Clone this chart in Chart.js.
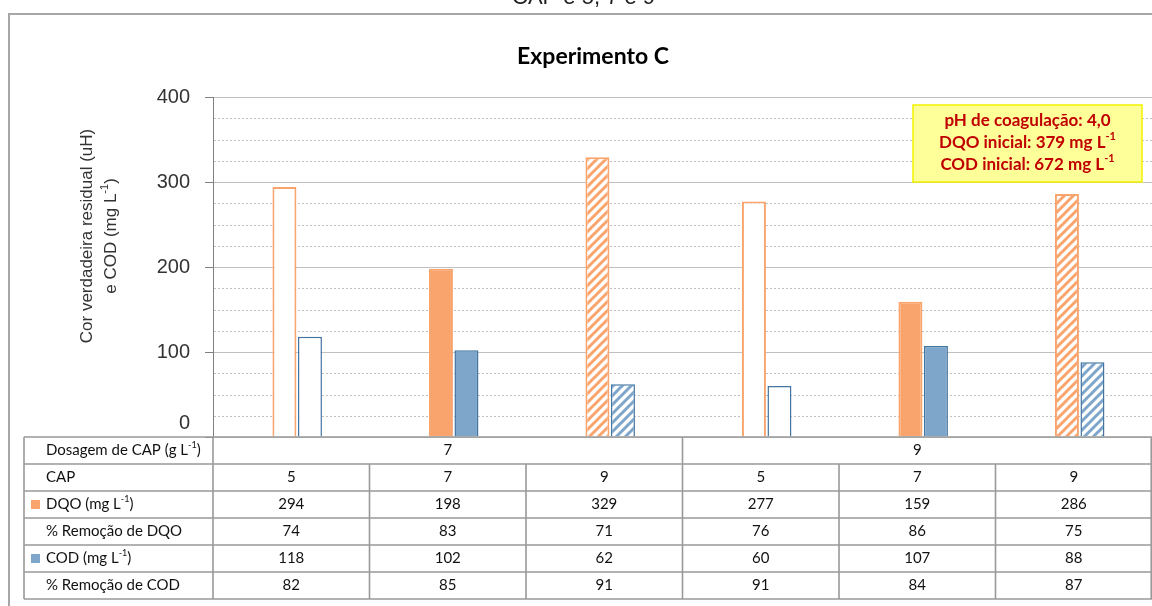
<!DOCTYPE html>
<html>
<head>
<meta charset="utf-8">
<script src="https://cdn.jsdelivr.net/npm/chart.js@4/dist/chart.umd.min.js"></script>
<style>
  html, body { margin: 0; padding: 0; background: #fff; overflow: hidden; }
  canvas { display: block; }
</style>
</head>
<body>
<canvas id="chart" width="1152" height="606"></canvas>
<script>
// Experimento C: residual DQO and COD after coagulation + CAP adsorption
const dosagemCAP = [7, 7, 7, 9, 9, 9];
const cap = [5, 7, 9, 5, 7, 9];
const dqo = [294, 198, 329, 277, 159, 286];
const remocaoDQO = [74, 83, 71, 76, 86, 75];
const cod = [118, 102, 62, 60, 107, 88];
const remocaoCOD = [82, 85, 91, 91, 84, 87];
const yTicks = [0, 100, 200, 300, 400];
const phCoagulacao = '4,0';
const dqoInicial = 379;
const codInicial = 672;

const categorias = cap.map((c, i) => dosagemCAP[i] + ' g/L - CAP ' + c);

const ORANGE = '#F9A46C';
const BLUE_FILL = '#7EA6CB';
const BLUE_LINE = '#4375A2';
const GRID = '#C0C0C0';
const AXIS = '#808080';
const TABLE_LINE = '#999999';

// diagonal "/" hatch used for the CAP 9 bars
function hatch(color) {
  const s = 9;
  const c = document.createElement('canvas');
  c.width = c.height = s;
  const g = c.getContext('2d');
  g.fillStyle = '#ffffff';
  g.fillRect(0, 0, s, s);
  g.strokeStyle = color;
  g.lineWidth = 3;
  g.beginPath();
  g.moveTo(-s, s); g.lineTo(s, -s);
  g.moveTo(0, s); g.lineTo(s, 0);
  g.moveTo(0, 2 * s); g.lineTo(2 * s, 0);
  g.stroke();
  return g.createPattern(c, 'repeat');
}
const hatchOrange = hatch(ORANGE);
const hatchBlue = hatch(BLUE_FILL);

// bar fill depends on the CAP level: 5 = outline, 7 = solid, 9 = hatched
function fillFor(level, solid, pattern) {
  if (level === 5) return '#ffffff';
  if (level === 7) return solid;
  return pattern;
}

// text with ^{...} superscripts
function segs(str) {
  const out = [];
  const re = /\^\{([^}]*)\}/g;
  let last = 0, m;
  while ((m = re.exec(str))) {
    if (m.index > last) out.push({ t: str.slice(last, m.index), sup: false });
    out.push({ t: m[1], sup: true });
    last = re.lastIndex;
  }
  if (last < str.length) out.push({ t: str.slice(last), sup: false });
  return out;
}
function drawRich(ctx, str, x, y, size, family, weight, color, align) {
  const parts = segs(str);
  const font = sup => `${weight} ${sup ? Math.round(size * 0.62) : size}px ${family}`;
  let w = 0;
  parts.forEach(p => { ctx.font = font(p.sup); p.w = ctx.measureText(p.t).width; w += p.w; });
  let cx = align === 'center' ? x - w / 2 : align === 'right' ? x - w : x;
  ctx.fillStyle = color;
  ctx.textBaseline = 'middle';
  ctx.textAlign = 'left';
  parts.forEach(p => {
    ctx.font = font(p.sup);
    ctx.fillText(p.t, cx, p.sup ? y - size * 0.36 : y);
    cx += p.w;
  });
}

const tableRows = [
  { label: 'Dosagem de CAP (g L^{-1})', values: dosagemCAP, merge: true },
  { label: 'CAP', values: cap },
  { label: 'DQO (mg L^{-1})', values: dqo, key: ORANGE },
  { label: '% Remoção de DQO', values: remocaoDQO },
  { label: 'COD (mg L^{-1})', values: cod, key: BLUE_FILL },
  { label: '% Remoção de COD', values: remocaoCOD },
];

const minorGrid = {
  id: 'minorGrid',
  beforeDatasetsDraw(chart) {
    const { ctx, chartArea: a, scales: { y } } = chart;
    ctx.save();
    ctx.strokeStyle = GRID;
    ctx.lineWidth = 1;
    ctx.setLineDash([2, 2]);
    for (let v = y.min + 25; v < y.max; v += 25) {
      if (v % 100 === 0) continue;
      const py = Math.round(y.getPixelForValue(v)) + 0.5;
      ctx.beginPath();
      ctx.moveTo(a.left + 1, py);
      ctx.lineTo(a.right, py);
      ctx.stroke();
    }
    ctx.restore();
  }
};

const decorations = {
  id: 'decorations',
  afterDraw(chart) {
    const { ctx, chartArea: a, scales: { y } } = chart;
    ctx.save();

    // caption line running off the top
    ctx.font = '22px "Liberation Sans", Arial, sans-serif';
    ctx.fillStyle = '#222';
    ctx.textAlign = 'left';
    ctx.textBaseline = 'alphabetic';
    ctx.fillText('CAP e 5, 7 e 9', 512, 4);

    // outer frame
    ctx.strokeStyle = '#A6A6A6';
    ctx.lineWidth = 2;
    ctx.strokeRect(9, 14, 1300, 800);

    // chart title
    ctx.font = 'bold 23px Lato, sans-serif';
    ctx.fillStyle = '#000';
    ctx.textAlign = 'center';
    ctx.textBaseline = 'middle';
    ctx.fillText('Experimento C', 593, 57);

    // y tick labels
    yTicks.forEach(v => {
      const py = Math.min(y.getPixelForValue(v), a.bottom - 14);
      ctx.font = '20px "Liberation Sans", Arial, sans-serif';
      ctx.fillStyle = '#333';
      ctx.textAlign = 'right';
      ctx.textBaseline = 'middle';
      ctx.fillText(String(v), 190, py);
    });

    // y axis title (two lines, rotated)
    const yTitle = ['Cor verdadeira residual (uH)', 'e COD (mg L^{-1})'];
    [[87, 236], [111, 236]].forEach(([tx, ty], i) => {
      ctx.save();
      ctx.translate(tx, ty);
      ctx.rotate(-Math.PI / 2);
      drawRich(ctx, yTitle[i], 0, 0, 17, '"Liberation Sans", Arial, sans-serif', 'normal', '#333', 'center');
      ctx.restore();
    });

    // initial conditions box
    const bx = 913, by = 105, bw = 229, bh = 77;
    ctx.fillStyle = '#FFFF99';
    ctx.fillRect(bx, by, bw, bh);
    ctx.strokeStyle = '#F2F200';
    ctx.lineWidth = 1.5;
    ctx.strokeRect(bx, by, bw, bh);
    const boxLines = [
      'pH de coagulação: ' + phCoagulacao,
      'DQO inicial: ' + dqoInicial + ' mg L^{-1}',
      'COD inicial: ' + codInicial + ' mg L^{-1}',
    ];
    boxLines.forEach((t, i) => {
      drawRich(ctx, t, bx + bw / 2, 121 + i * 22, 17, 'Lato, sans-serif', 'bold', '#C00000', 'center');
    });

    // data table under the plot
    const left = 24, right = a.right;
    const top = a.bottom;
    const rh = 27;
    const n = cap.length;
    const cw = (a.right - a.left) / n;
    const colX = i => a.left + i * cw;
    ctx.strokeStyle = TABLE_LINE;
    ctx.lineWidth = 1.6;
    ctx.setLineDash([]);
    for (let r = 0; r <= tableRows.length; r++) {
      const ly = top + r * rh;
      ctx.beginPath(); ctx.moveTo(left, ly); ctx.lineTo(right, ly); ctx.stroke();
    }
    ctx.beginPath();
    ctx.moveTo(left, top); ctx.lineTo(left, top + tableRows.length * rh);
    ctx.moveTo(a.left, top); ctx.lineTo(a.left, top + tableRows.length * rh);
    ctx.moveTo(right - 0.75, top); ctx.lineTo(right - 0.75, top + tableRows.length * rh);
    ctx.stroke();

    tableRows.forEach((row, r) => {
      const ry = top + r * rh;
      const cy = ry + rh / 2;
      if (row.key) {
        ctx.fillStyle = row.key;
        ctx.fillRect(31, cy - 4.5, 9, 9);
      }
      drawRich(ctx, row.label, 46, cy, 15, 'Lato, sans-serif', 'normal', '#111', 'left');
      // group equal neighbours for merged rows
      const groups = [];
      row.values.forEach((v, i) => {
        if (row.merge && groups.length && groups[groups.length - 1].v === v) groups[groups.length - 1].end = i;
        else groups.push({ v, start: i, end: i });
      });
      groups.forEach((g, gi) => {
        const x0 = colX(g.start), x1 = colX(g.end + 1);
        if (gi > 0) {
          ctx.strokeStyle = TABLE_LINE;
          ctx.beginPath(); ctx.moveTo(x0, ry); ctx.lineTo(x0, ry + rh); ctx.stroke();
        }
        drawRich(ctx, String(g.v), (x0 + x1) / 2, cy, 15, 'Lato, sans-serif', 'normal', '#111', 'center');
      });
    });

    ctx.restore();
  }
};

new Chart(document.getElementById('chart'), {
  type: 'bar',
  data: {
    labels: categorias,
    datasets: [
      {
        label: 'DQO (mg L-1)',
        data: dqo,
        backgroundColor: c => fillFor(cap[c.dataIndex], ORANGE, hatchOrange),
        borderColor: ORANGE,
        borderWidth: 2,
        categoryPercentage: 0.326,
        barPercentage: 0.94,
      },
      {
        label: 'COD (mg L-1)',
        data: cod,
        backgroundColor: c => fillFor(cap[c.dataIndex], BLUE_FILL, hatchBlue),
        borderColor: BLUE_LINE,
        borderWidth: 1.5,
        categoryPercentage: 0.326,
        barPercentage: 0.94,
      }
    ]
  },
  options: {
    responsive: false,
    animation: false,
    devicePixelRatio: 1,
    layout: { padding: { left: 0, right: 0, top: 97, bottom: 169 } },
    plugins: {
      legend: { display: false },
      tooltip: { enabled: false },
      title: { display: false }
    },
    scales: {
      x: {
        display: false,
        offset: true,
        // bars sit slightly right of the column centres
        afterBuildTicks: s => { s._startValue -= 0.038; }
      },
      y: {
        min: 0,
        max: 400,
        ticks: { stepSize: 100, display: false },
        grid: { color: GRID, tickColor: AXIS, tickLength: 8, drawTicks: true },
        border: { color: AXIS, width: 1 },
        afterFit: s => { s.width = 213; }
      }
    }
  },
  plugins: [minorGrid, decorations]
});
</script>
</body>
</html>
